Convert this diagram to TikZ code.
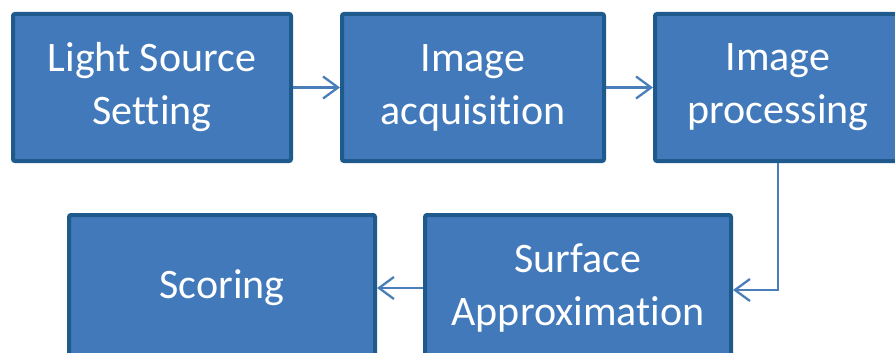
\documentclass[tikz,border=0pt]{standalone}
\usepackage{fontspec}
\setmainfont[Ligatures=NoCommon]{Carlito}
\usetikzlibrary{arrows.meta}
\definecolor{boxfill}{HTML}{4279BA}
\definecolor{boxline}{HTML}{1F5A8C}
\definecolor{arrowc}{HTML}{4A7EBB}
\tikzset{
  procbox/.style={draw=boxline, fill=boxfill, line width=4pt, rounded corners=2pt,
    text=white, align=center, inner sep=0pt, minimum height=147pt,
    font=\fontsize{42pt}{53pt}\selectfont},
  flow/.style={draw=arrowc, line width=2.3pt, -{Straight Barb[length=15pt,width=22pt,line width=2.3pt]}}
}
\begin{document}
\begin{tikzpicture}[x=1pt,y=-1pt]
\useasboundingbox (0,0) rectangle (895,353);
\begin{scope}
\clip (0,0) rectangle (895,353);
\node[procbox, minimum width=278pt] (b1) at (152,87.5) {Light Source\\Setting};
\node[procbox, minimum width=262pt] (b2) at (473,87.5) {Image\\acquisition};
\node[procbox, minimum width=246pt] (b3) at (778,87.5) {Image\\processing};
\node[procbox, minimum width=306pt, minimum height=146pt] (b5) at (578,288) {Surface\\Approximation};
\node[procbox, minimum width=306pt, minimum height=146pt] (b4) at (222,288) {Scoring};
\draw[flow] (b1.east) -- (b2.west);
\draw[flow] (b2.east) -- (b3.west);
\draw[flow] (b3.south) |- ([yshift=-2pt]b5.east);
\draw[flow] (b5.west) -- (b4.east);
\end{scope}
\end{tikzpicture}
\end{document}
